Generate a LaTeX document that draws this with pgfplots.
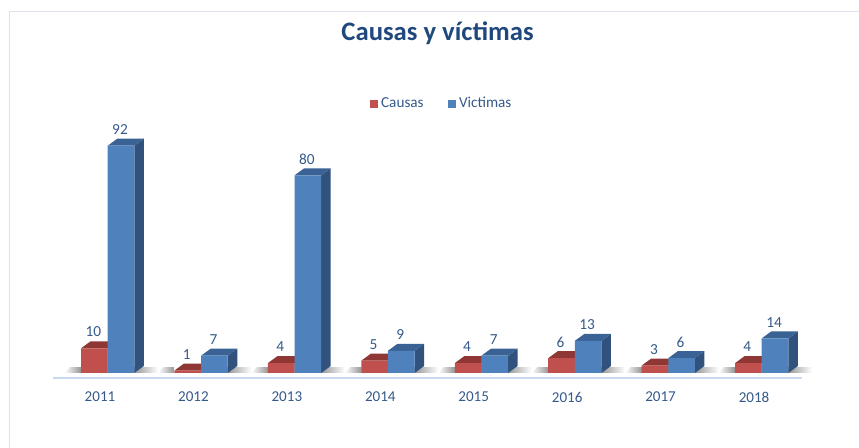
\documentclass[border=0pt]{standalone}
\usepackage{pgfplots}
\pgfplotsset{compat=1.18}
\usepackage{fontspec}
\setmainfont{Carlito}
\definecolor{cred}{HTML}{C0504D}
\definecolor{credtop}{HTML}{8F3735}
\definecolor{cblue}{HTML}{4F81BD}
\definecolor{cbluetop}{HTML}{3A6295}
\definecolor{cblueside}{HTML}{30527D}
\definecolor{ctxt}{HTML}{35598A}
\definecolor{ctitle}{HTML}{1F497D}
\definecolor{cline}{HTML}{C6D9F1}
\definecolor{cframe}{HTML}{DCE3EE}
\newcommand\depth[3]{% x0 of bar, value, series prefix
  \pgfmathsetmacro\xa{#1}\pgfmathsetmacro\xb{#1+0.285}
  \pgfmathsetmacro\xc{#1+0.285+0.102}\pgfmathsetmacro\xd{#1+0.102}
  \pgfmathsetmacro\yb{#2+2.83}
  \addplot[forget plot,draw=none,fill=cblueside] coordinates {(\xb,0)(\xc,2.83)(\xc,\yb)(\xb,#2)} -- cycle;
  \addplot[forget plot,draw=none,fill=#3top] coordinates {(\xa,#2)(\xb,#2)(\xc,\yb)(\xd,\yb)} -- cycle;
}
\newcommand\shadow[1]{%
  \pgfmathsetmacro\sa{#1-0.38}\pgfmathsetmacro\sb{#1-0.2}\pgfmathsetmacro\sc{#1+0.36}\pgfmathsetmacro\sd{#1+0.62}\pgfmathsetmacro\se{#1-0.32}
  \addplot[forget plot,draw=none,left color=white,right color=black!42] coordinates {(\sa,0)(\sb,0)(\sb,2.4)(\se,2.4)} -- cycle;
  \addplot[forget plot,draw=none,left color=black!42,right color=white] coordinates {(\sc,0)(\sd,0)(\sd,2.4)(\sc,2.4)} -- cycle;
}
\pgfplotsset{sqlegend/.style={legend image code/.code={\fill[draw=none,fill=#1] (0pt,-3pt) rectangle (6pt,3pt);}}}
\begin{document}
\begin{tikzpicture}
\begin{axis}[
  scale only axis, width=644.25pt, height=336pt,
  xmin=-1.0703, xmax=8.1237, ymin=-30.36, ymax=151.0,
  clip=false,
  axis line style={draw=none},
  major tick length=0pt,
  ytick=\empty,
  xtick={0,...,7},
  xticklabels={2011,2012,2013,2014,2015,2016,2017,2018},
  x tick label style={anchor=center, yshift=38.25pt, font=\fontsize{11.3pt}{13pt}\selectfont, text=ctxt},
  legend columns=2,
  legend style={draw=none, fill=none, at={(axis cs:2.892,109.0)}, anchor=west,
    font=\fontsize{11.4pt}{13pt}\selectfont, text=ctxt, inner sep=0pt,
    /tikz/every even column/.style={column sep=16.5pt}},
  /pgf/number format/assume math mode=true,
]
% frame
\addplot[forget plot,cframe,line width=0.6pt] coordinates {(-0.967,-30.36)(-0.967,146.45)(8.1237,146.45)};
% floor line
\addplot[forget plot,cline,line width=1pt] coordinates {(-0.503,-2.0)(7.514,-2.0)};
\shadow{0}\shadow{1}\shadow{2}\shadow{3}\shadow{4}\shadow{5}\shadow{6}\shadow{7}
\depth{-0.203}{10}{cred}\depth{0.797}{1}{cred}\depth{1.797}{4}{cred}\depth{2.797}{5}{cred}
\depth{3.797}{4}{cred}\depth{4.797}{6}{cred}\depth{5.797}{3}{cred}\depth{6.797}{4}{cred}
\addplot[ybar, bar width=0.285, bar shift=-0.0605, draw=none, fill=cred, sqlegend=cred,
  nodes near coords, every node near coord/.append style={anchor=center, xshift=-5pt, yshift=12.2pt, font=\fontsize{11.5pt}{13pt}\selectfont, text=ctxt}]
  coordinates {(0,10)(1,1)(2,4)(3,5)(4,4)(5,6)(6,3)(7,4)};
\addlegendentry{Causas}
\depth{0.082}{92}{cblue}\depth{1.082}{7}{cblue}\depth{2.082}{80}{cblue}\depth{3.082}{9}{cblue}
\depth{4.082}{7}{cblue}\depth{5.082}{13}{cblue}\depth{6.082}{6}{cblue}\depth{7.082}{14}{cblue}
\addplot[ybar, bar width=0.285, bar shift=0.2245, draw=none, fill=cblue, sqlegend=cblue,
  nodes near coords, every node near coord/.append style={anchor=center, xshift=15pt, yshift=12pt, font=\fontsize{11.5pt}{13pt}\selectfont, text=ctxt}]
  coordinates {(0,92)(1,7)(2,80)(3,9)(4,7)(5,13)(6,6)(7,14)};
\addlegendentry{Victimas}
\node[anchor=center, font=\bfseries\fontsize{20pt}{24pt}\selectfont, text=ctitle] at (axis cs:3.613,137.6) {Causas y víctimas};
\end{axis}
\pgfresetboundingbox
\useasboundingbox (0,0) rectangle (644.25pt,336pt);
\end{tikzpicture}
\end{document}
